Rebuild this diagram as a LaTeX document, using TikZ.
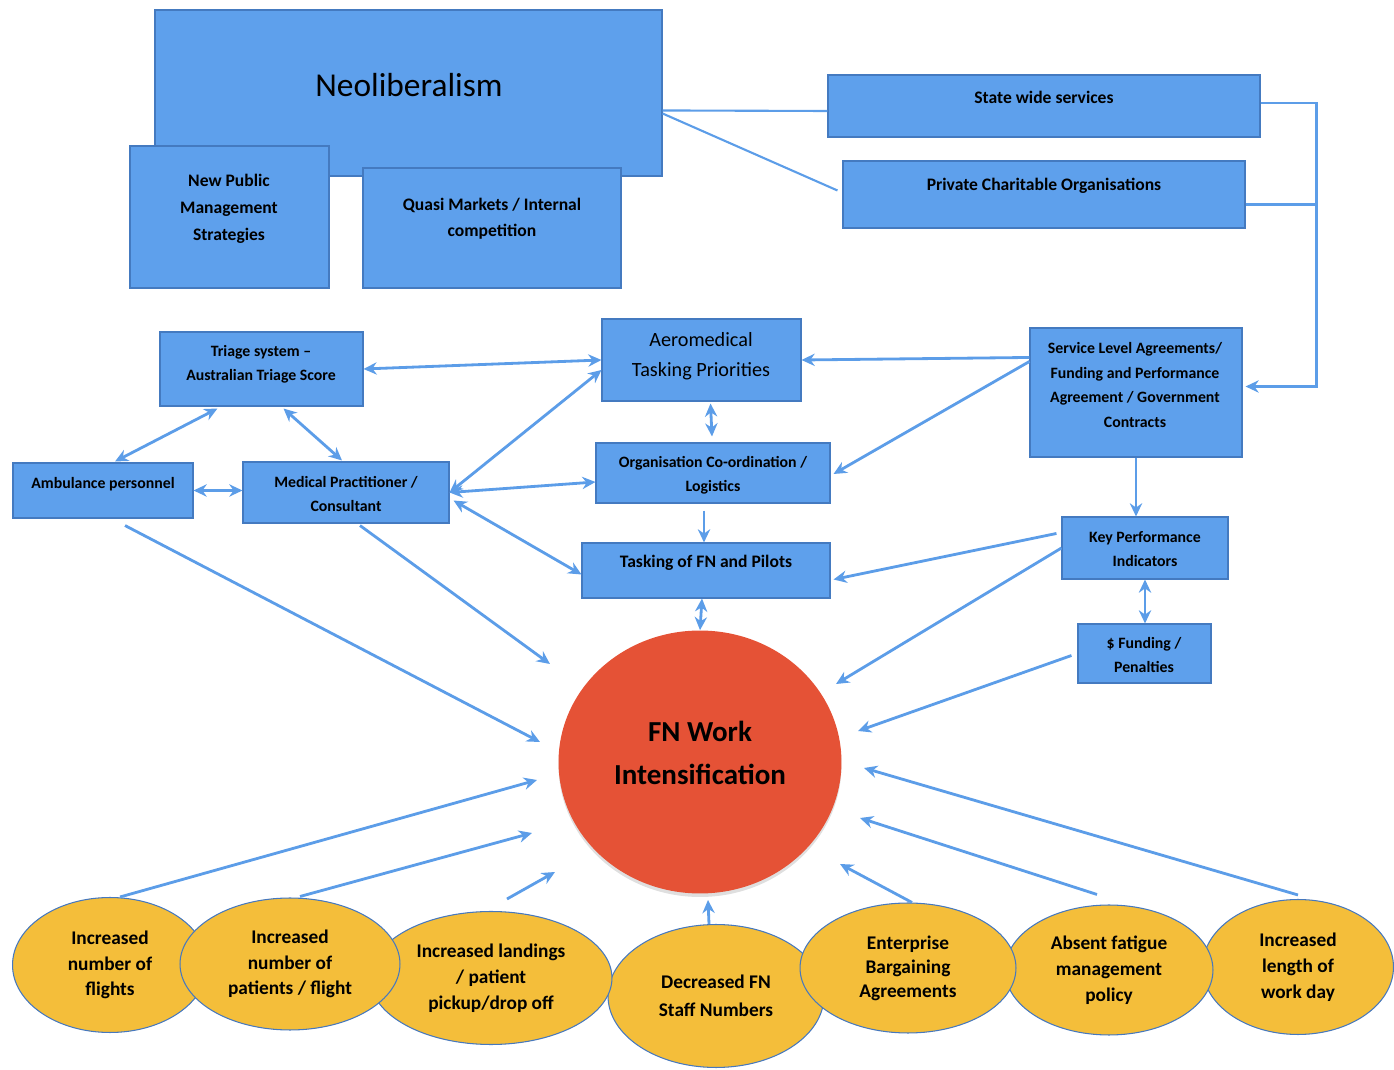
\documentclass[tikz,border=0pt]{standalone}
\usepackage{fontspec}
\setmainfont{Carlito}
\usepackage{xcolor}
\usetikzlibrary{arrows.meta,calc,fit,shapes.geometric,shadows}

\definecolor{boxblue}{RGB}{94,160,236}
\definecolor{boxedge}{RGB}{68,122,192}
\definecolor{arrowblue}{RGB}{92,157,232}
\definecolor{ovalgold}{RGB}{244,190,58}
\definecolor{ovaledge}{RGB}{70,120,190}
\definecolor{fnred}{RGB}{229,82,54}

\begin{document}
\begin{tikzpicture}[
  x=0.02cm, y=-0.02cm,
  >={Stealth[length=7.5pt,width=7pt]},
  box/.style={draw=boxedge, fill=boxblue, line width=0.6pt, inner sep=0pt},
  smalltext/.style={font=\bfseries\fontsize{9}{13.6}\selectfont, align=center, inner sep=0pt},
  midtext/.style={font=\bfseries\fontsize{10}{15}\selectfont, align=center, inner sep=0pt},
  oval/.style={ellipse, draw=ovaledge, fill=ovalgold, line width=0.6pt, inner sep=0pt,
    align=center, font=\bfseries\fontsize{11}{14.7}\selectfont},
  link/.style={draw=arrowblue, line width=1.2pt},
  arr/.style={->, draw=arrowblue, line width=1.6pt},
  dblarr/.style={<->, draw=arrowblue, line width=1.6pt}
]

\useasboundingbox (0,0) rectangle (1394,1070);

% ==================== Top: Neoliberalism block ====================
\node[box, fit={(155,10) (662,176)}] (neo) {};
\node[inner sep=0pt, font=\fontsize{19}{23}\selectfont] (neo-t) at (409,85) {Neoliberalism};

\node[box, fit={(130,146) (329,288)}] (npm) {};
\node[midtext, font=\bfseries\fontsize{10}{15.4}\selectfont] (npm-t) at (229,209)
  {New Public\\Management\\Strategies};

\node[box, fit={(363,168) (621,288)}] (quasi) {};
\node[midtext] (quasi-t) at (492,219) {Quasi Markets / Internal\\competition};

% ==================== Top right: service providers ====================
\node[box, fit={(828,75) (1260,137)}] (state) {};
\node[midtext] (state-t) at (1044,97) {State wide services};

\node[box, fit={(843,161) (1245,228)}] (private) {};
\node[midtext] (private-t) at (1044,186) {Private Charitable Organisations};

\draw[link] ($(neo.north east)+(0,101)$) -- ($(state.west)+(0,5)$);
\draw[link] ($(neo.north east)+(0,104)$) -- ($(private.west)+(-5,-4)$);

% ==================== Middle: tasking network ====================
\node[box, fit={(160,332) (363,406)}] (triage) {};
\node[smalltext] (triage-t) at (261,364) {Triage system --\\Australian Triage Score};

\node[box, fit={(13,463) (193,518)}] (amb) {};
\node[smalltext] (amb-t) at (103,484) {Ambulance personnel};

\node[box, fit={(243,462) (449,523)}] (med) {};
\node[smalltext] (med-t) at (346,494) {Medical Practitioner /\\Consultant};

\node[box, fit={(602,319) (801,401)}] (aero) {};
\node[inner sep=0pt, align=center, font=\fontsize{11.5}{17}\selectfont] (aero-t) at (701,356)
  {Aeromedical\\Tasking Priorities};

\node[box, fit={(596,443) (830,503)}] (org) {};
\node[smalltext] (org-t) at (713,475) {Organisation Co-ordination /\\Logistics};

\node[box, fit={(582,543) (830,598)}] (task) {};
\node[midtext] (task-t) at (706,563) {Tasking of FN and Pilots};

\node[box, fit={(1030,328) (1242,457)}] (sla) {};
\node[smalltext, font=\bfseries\fontsize{9}{14}\selectfont] (sla-t) at (1135,385)
  {Service Level Agreements/\\Funding and Performance\\Agreement / Government\\Contracts};

\node[box, fit={(1062,517) (1228,579)}] (kpi) {};
\node[smalltext] (kpi-t) at (1145,549) {Key Performance\\Indicators};

\node[box, fit={(1078,624) (1211,683)}] (fund) {};
\node[smalltext] (fund-t) at (1144,655) {\$ Funding /\\Penalties};

% ==================== Centre: FN Work Intensification ====================
\node[ellipse, fill=fnred, minimum width=5.66cm, minimum height=5.26cm, inner sep=0pt,
  drop shadow={opacity=0.25, shadow xshift=0pt, shadow yshift=-2pt}] (fn) at (700,762) {};
\node[inner sep=0pt, align=center, font=\bfseries\fontsize{16.5}{24.5}\selectfont]
  (fn-t) at (700,753) {FN Work\\Intensification};

% ==================== Bottom: contributing factors ====================
\node[oval, minimum width=3.9cm, minimum height=2.7cm] (flights) at (110,965)
  {Increased\\number of\\flights};
\node[oval, minimum width=4.32cm, minimum height=2.86cm, font=\bfseries\fontsize{11}{16}\selectfont]
  (staff) at (716,996) {Decreased FN\\Staff Numbers};
\node[oval, minimum width=3.82cm, minimum height=2.7cm] (workday) at (1298,967)
  {Increased\\length of\\work day};
\node[oval, minimum width=4.84cm, minimum height=2.66cm] (landings) at (491,978)
  {Increased landings\\/ patient\\pickup/drop off};
\node[oval, minimum width=4.16cm, minimum height=2.6cm] (fatigue) at (1109,970)
  {Absent fatigue\\management\\policy};
\node[oval, minimum width=4.4cm, minimum height=2.64cm] (patients) at (290,964)
  {Increased\\number of\\patients / flight};
\node[oval, minimum width=4.32cm, minimum height=2.6cm, font=\bfseries\fontsize{11}{13.6}\selectfont]
  (eba) at (908,968) {Enterprise\\Bargaining\\Agreements};

% ==================== Connectors ====================
% contracts bracket
\draw[link, ->] ($(state.east)+(0,-3)$) -- ++(56,0) |- ($(sla.east)+(3,-6)$);
\draw[link] ($(private.east)+(0,10)$) -- ++(71,0);

% clinical side
\draw[dblarr] (triage.east) -- (aero.west);
\draw[dblarr] ($(triage.south west)+(58,2)$) -- ($(amb.north)+(12,-1)$);
\draw[dblarr] ($(triage.south)+(22,2)$) -- ($(med.north)+(-4,-1)$);
\draw[dblarr] (amb.east) -- (amb.east -| med.west);
\draw[dblarr] (med.east) -- ($(aero.west)+(0,10)$);
\draw[dblarr] (med.east) -- ($(org.west)+(0,9)$);
\draw[dblarr] ($(med.east)+(4,8)$) -- ($(task.west)+(0,4)$);

% tasking column
\draw[dblarr] ($(aero.south)+(9,2)$) -- ($(org.north)+(-1,-6)$);
\draw[arr] ($(org.south)+(-9,7)$) -- ($(task.north)+(-2,0)$);
\draw[dblarr] ($(task.south)+(-4,0)$) -- (fn.north);

% contracts side
\draw[arr] ($(sla.north west)+(0,30)$) -- (aero.east);
\draw[arr] ($(sla.north west)+(0,34)$) -- ($(org.east)+(3,1)$);
\draw[arr] (sla.south) -- (sla.south |- kpi.north);
\draw[arr] ($(kpi.north west)+(-5,17)$) -- ($(task.east)+(3,9)$);
\draw[dblarr] (kpi.south) -- (kpi.south |- fund.north);
\draw[arr] (kpi.west) -- ($(fn)+(136,-78)$);
\draw[arr] ($(fund.west)+(-6,2)$) -- ($(fn)+(158,-31)$);

% into the circle
\draw[arr] ($(amb.south)+(22,7)$) -- ($(fn)+(-160,-20)$);
\draw[arr] ($(med.south)+(14,2)$) -- ($(fn)+(-150,-98)$);
\foreach \src/\sx/\sy/\dx/\dy in {flights/10/0/-163/18, patients/10/-1/-168/71,
    landings/16/-12/-145/110, staff/-7/0/8/138, eba/4/0/140/102,
    fatigue/-12/-10/160/56, workday/0/-4/164/6}
  \draw[arr] ($(\src.north)+(\sx,\sy)$) -- ($(fn)+(\dx,\dy)$);

\end{tikzpicture}
\end{document}
